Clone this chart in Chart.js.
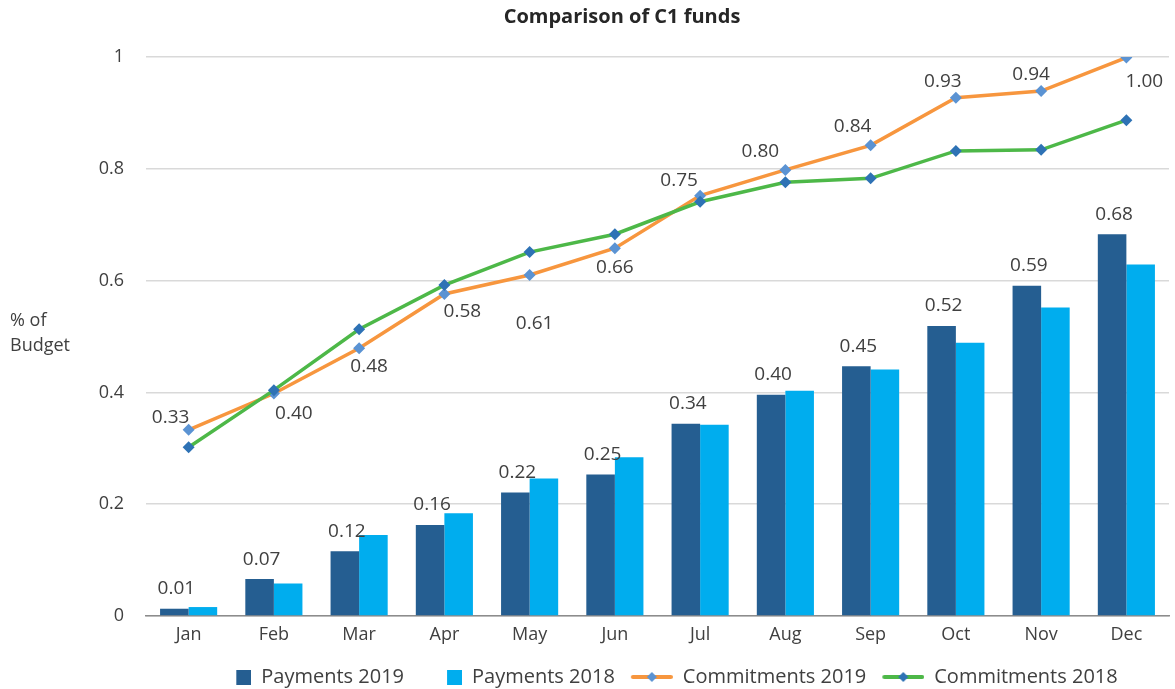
<!DOCTYPE html>
<html>
<head>
<meta charset="utf-8">
<script src="https://cdn.jsdelivr.net/npm/chart.js@4/dist/chart.umd.min.js"></script>
<style>
  body { margin: 0; background: #fff; }
  #wrap { width: 1175px; height: 689px; }
</style>
</head>
<body>
<div id="wrap"><canvas id="chart1"></canvas></div>
<script>
const months = ['Jan', 'Feb', 'Mar', 'Apr', 'May', 'Jun', 'Jul', 'Aug', 'Sep', 'Oct', 'Nov', 'Dec']
const yTicks = [0, 0.2, 0.4, 0.6, 0.8, 1]

const payments2019 = [0.013, 0.066, 0.116, 0.163, 0.221, 0.253, 0.344, 0.396, 0.447, 0.519, 0.591, 0.683]
const payments2018 = [0.016, 0.058, 0.145, 0.184, 0.246, 0.284, 0.342, 0.403, 0.441, 0.489, 0.552, 0.629]
const commitments2019 = [0.333, 0.398, 0.479, 0.576, 0.610, 0.658, 0.752, 0.798, 0.842, 0.927, 0.939, 0.999]
const commitments2018 = [0.302, 0.404, 0.513, 0.592, 0.651, 0.683, 0.741, 0.776, 0.783, 0.832, 0.834, 0.887]

const FONT = "'Open Sans', 'Noto Sans', sans-serif"
const TEXT = '#404040'

// label offsets (px) from each commitments 2019 marker, as placed in the original
const commitLabelShift = [[-18, -12], [20, 20], [10, 18], [18, 18], [5, 49], [0, 19],
  [-21, -15], [-25, -18], [-18, -19], [-13, -16], [-10, -17], [18, 24]]

// legend swatches, all 54 wide so the gaps between items come out like the original
function boxImage(color) {
  const c = document.createElement('canvas')
  c.width = 54; c.height = 15
  const g = c.getContext('2d')
  g.fillStyle = color
  g.fillRect(39, 0, 15, 15)
  return c
}

function lineImage(color, marker) {
  const c = document.createElement('canvas')
  c.width = 54; c.height = 12
  const g = c.getContext('2d')
  g.strokeStyle = color
  g.lineWidth = 4
  g.lineCap = 'round'
  g.beginPath(); g.moveTo(14, 6); g.lineTo(52, 6); g.stroke()
  g.fillStyle = marker
  g.beginPath(); g.moveTo(33, 1); g.lineTo(38, 6); g.lineTo(33, 11); g.lineTo(28, 6); g.closePath(); g.fill()
  return c
}

const legendImages = [
  boxImage('#255e91'),
  boxImage('#00adee'),
  lineImage('#f7963e', '#5b93d3'),
  lineImage('#4db848', '#2e72b5')
]

const valueLabels = {
  id: 'valueLabels',
  afterDatasetsDraw(chart) {
    const ctx = chart.ctx
    ctx.save()
    ctx.font = '19px ' + FONT
    ctx.fillStyle = TEXT
    ctx.textAlign = 'center'
    ctx.textBaseline = 'middle'
    chart.data.datasets.forEach((ds, i) => {
      if (!ds.showValues) return
      const meta = chart.getDatasetMeta(i)
      meta.data.forEach((el, j) => {
        const v = ds.data[j].toFixed(2)
        if (ds.type === 'bar') {
          ctx.fillText(v, el.x + 2, el.y - 20)
        } else {
          const s = commitLabelShift[j]
          ctx.fillText(v, el.x + s[0], el.y + s[1])
        }
      })
    })
    ctx.restore()
  }
}

const extraText = {
  id: 'extraText',
  afterDraw(chart) {
    const ctx = chart.ctx
    ctx.save()
    ctx.fillStyle = '#262626'
    ctx.font = 'bold 20px ' + FONT
    ctx.textAlign = 'center'
    ctx.textBaseline = 'middle'
    ctx.fillText('Comparison of C1 funds', 622, 17)
    ctx.fillStyle = TEXT
    ctx.font = '18px ' + FONT
    ctx.textAlign = 'left'
    ctx.fillText('% of', 10, 321)
    ctx.fillText('Budget', 10, 346)
    ctx.restore()
  }
}

const ctx1 = document.getElementById('chart1').getContext('2d')
const chart1 = new Chart(ctx1, {
  data: {
    labels: months,
    datasets: [{
      type: 'bar',
      label: 'Payments 2019',
      data: payments2019,
      backgroundColor: '#255e91',
      showValues: true,
      categoryPercentage: 0.67,
      barPercentage: 1
    },
    {
      type: 'bar',
      label: 'Payments 2018',
      data: payments2018,
      backgroundColor: '#00adee',
      categoryPercentage: 0.67,
      barPercentage: 1
    },
    {
      type: 'line',
      label: 'Commitments 2019',
      data: commitments2019,
      borderColor: '#f7963e',
      borderWidth: 3.5,
      pointStyle: 'rectRot',
      pointRadius: 6,
      pointBackgroundColor: '#5b93d3',
      pointBorderWidth: 0,
      tension: 0,
      showValues: true,
      order: -1
    },
    {
      type: 'line',
      label: 'Commitments 2018',
      data: commitments2018,
      borderColor: '#4db848',
      borderWidth: 3.5,
      pointStyle: 'rectRot',
      pointRadius: 6,
      pointBackgroundColor: '#2e72b5',
      pointBorderWidth: 0,
      tension: 0,
      order: -2
    }]
  },
  options: {
    responsive: true,
    maintainAspectRatio: false,
    animation: false,
    layout: {
      padding: { top: 57, right: 3, left: 0, bottom: -8 }
    },
    scales: {
      x: {
        afterFit: scale => { scale.height = 47 },
        grid: { display: false },
        border: { display: true, color: '#8c8c8c', width: 1.5 },
        ticks: { color: TEXT, font: { family: FONT, size: 18 }, padding: 0 }
      },
      y: {
        min: 0,
        max: 1,
        afterFit: scale => { scale.width = 146 },
        afterBuildTicks: scale => { scale.ticks = yTicks.map(v => ({ value: v })) },
        grid: { color: '#d9d9d9', lineWidth: 1.5, drawTicks: false },
        border: { display: false },
        ticks: {
          color: TEXT,
          font: { family: FONT, size: 18 },
          padding: 22,
          callback: v => String(v)
        }
      }
    },
    plugins: {
      legend: {
        position: 'bottom',
        fullSize: false,
        labels: {
          usePointStyle: true,
          pointStyleWidth: 54,
          color: TEXT,
          font: { family: FONT, size: 20, lineHeight: 1.1 },
          padding: 4,
          sort: (a, b) => a.datasetIndex - b.datasetIndex,
          generateLabels: chart => {
            const items = Chart.defaults.plugins.legend.labels.generateLabels(chart)
            items.forEach(it => { it.pointStyle = legendImages[it.datasetIndex] })
            return items
          }
        }
      },
      tooltip: { enabled: false }
    }
  },
  plugins: [valueLabels, extraText]
})
</script>
</body>
</html>
